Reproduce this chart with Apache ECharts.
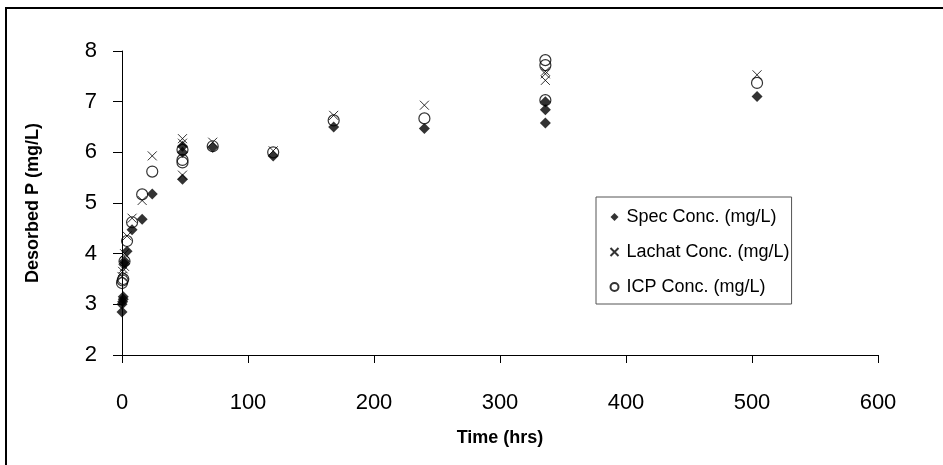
<!DOCTYPE html>
<html>
<head>
<meta charset="utf-8">
<script src="https://cdn.jsdelivr.net/npm/echarts@6/dist/echarts.min.js"></script>
<style>
  html, body { margin: 0; padding: 0; background: #fff; }
  #chart { width: 943px; height: 465px; }
</style>
</head>
<body>
<div id="chart"></div>
<script>
// time (hrs) and desorbed P (mg/L)
var specTime = [0, 0, 0.5, 1, 1, 2, 2, 4, 8, 16, 24, 48, 48, 48, 72, 120, 168, 240, 336, 336, 336, 504]
var specConc = [2.85, 3.0, 3.05, 3.1, 3.15, 3.8, 3.85, 4.05, 4.47, 4.68, 5.18, 5.47, 6.0, 6.12, 6.1, 5.93, 6.5, 6.47, 6.58, 6.84, 7.0, 7.1]

var lachatTime = [0, 0.5, 1, 2, 2, 4, 8, 16, 24, 48, 48, 48, 72, 120, 168, 240, 336, 336, 336, 504]
var lachatConc = [3.55, 3.65, 3.7, 3.75, 4.0, 4.35, 4.7, 5.05, 5.93, 5.55, 6.18, 6.27, 6.2, 6.03, 6.73, 6.93, 7.42, 7.55, 7.6, 7.53]

var icpTime = [0, 0.5, 1, 2, 4, 8, 16, 24, 48, 48, 48, 72, 120, 168, 240, 336, 336, 336, 504]
var icpConc = [3.42, 3.47, 3.5, 3.85, 4.25, 4.62, 5.17, 5.62, 5.8, 5.85, 6.05, 6.12, 6.0, 6.63, 6.67, 7.03, 7.72, 7.82, 7.37]

var seriesNames = ['Spec Conc. (mg/L)', 'Lachat Conc. (mg/L)', 'ICP Conc. (mg/L)']

function pairs (xs, ys) {
  return xs.map(function (x, i) { return [x, ys[i]] })
}

var font = 'Liberation Sans, Arial, sans-serif'
var chart = echarts.init(document.getElementById('chart'))

chart.setOption({
  backgroundColor: '#fff',
  animation: false,
  graphic: [{
    type: 'rect',
    shape: { x: 6, y: 8, width: 1000, height: 1000 },
    style: { fill: 'none', stroke: '#000', lineWidth: 2 },
    silent: true
  }],
  grid: {
    left: 122,
    right: 65,
    top: 51,
    bottom: 110
  },
  legend: {
    orient: 'vertical',
    left: 596,
    top: 197,
    padding: [10, 2, 7, 12],
    itemWidth: 8,
    itemHeight: 8,
    itemGap: 15,
    borderColor: '#555',
    borderWidth: 1,
    textStyle: {
      fontFamily: font,
      fontSize: 18,
      color: '#000',
      lineHeight: 20,
      padding: [0, 0, 0, 3]
    },
    data: seriesNames
  },
  xAxis: {
    type: 'value',
    min: 0,
    max: 600,
    interval: 100,
    name: 'Time (hrs)',
    nameLocation: 'middle',
    nameGap: 74,
    nameTextStyle: { fontFamily: font, fontSize: 18, fontWeight: 'bold', color: '#000' },
    axisLine: { lineStyle: { color: '#000', width: 1 } },
    axisTick: { length: 8, lineStyle: { color: '#000' } },
    axisLabel: { fontFamily: font, fontSize: 22, color: '#000', margin: 37 },
    splitLine: { show: false }
  },
  yAxis: {
    type: 'value',
    min: 2,
    max: 8,
    interval: 1,
    name: 'Desorbed P (mg/L)',
    nameLocation: 'middle',
    nameGap: 80,
    nameTextStyle: { fontFamily: font, fontSize: 18, fontWeight: 'bold', color: '#000' },
    axisLine: { show: true, lineStyle: { color: '#000', width: 1 } },
    axisTick: { show: true, length: 9, lineStyle: { color: '#000' } },
    axisLabel: { fontFamily: font, fontSize: 22, color: '#000', margin: 25 },
    splitLine: { show: false }
  },
  series: [{
    name: seriesNames[0],
    type: 'scatter',
    symbol: 'diamond',
    symbolSize: 11,
    itemStyle: { color: '#000' },
    data: pairs(specTime, specConc)
  }, {
    name: seriesNames[1],
    type: 'scatter',
    symbol: 'path://M0,0L10,10M10,0L0,10',
    symbolSize: 9,
    itemStyle: { color: 'none', borderColor: '#000', borderWidth: 1 },
    data: pairs(lachatTime, lachatConc)
  }, {
    name: seriesNames[2],
    type: 'scatter',
    symbol: 'circle',
    symbolSize: 11,
    itemStyle: { color: 'none', borderColor: '#000', borderWidth: 1.2 },
    data: pairs(icpTime, icpConc)
  }]
})
</script>
</body>
</html>
